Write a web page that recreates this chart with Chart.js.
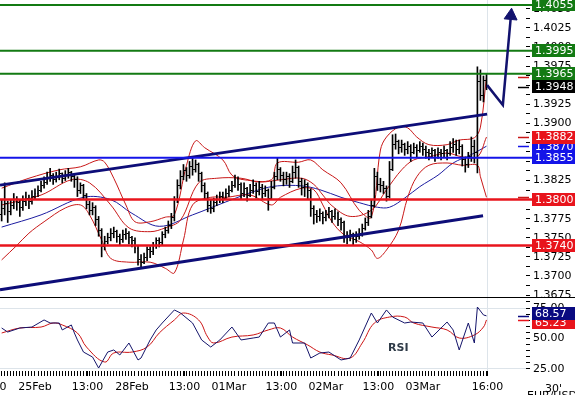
<!DOCTYPE html>
<html><head><meta charset="utf-8">
<script src="https://cdn.jsdelivr.net/npm/chart.js@4.4.1/dist/chart.umd.min.js"></script>
<style>
html,body{margin:0;padding:0;background:#fff;overflow:hidden;width:575px;height:395px;position:relative}
#c1{position:absolute;left:-40px;top:0}
#c2{position:absolute;left:-40px;top:298px}
#sep{position:absolute;left:0;top:297px;width:575px;height:1px;background:#000}
</style></head><body>
<canvas id="c1" width="615" height="298"></canvas>
<canvas id="c2" width="615" height="97"></canvas>
<div id="sep"></div>
<script>
// ---------- DATA ----------
const barStartHour = -8.25, barStepHours = 0.75;   // 45' bars, hours from 25Feb 00:00 (trading time)
const opens = [1.3780,1.3788,1.3795,1.3785,1.3792,1.3800,1.3796,1.3790,1.3798,1.3802,
1.3797,1.3804,1.3808,1.3812,1.3818,1.3822,1.3828,1.3832,1.3826,1.3830,
1.3834,1.3828,1.3832,1.3836,1.3830,1.3826,1.3812,1.3818,1.3806,1.3794,
1.3786,1.3790,1.3774,1.3760,1.3738,1.3745,1.3750,1.3755,1.3758,1.3752,
1.3748,1.3754,1.3756,1.3750,1.3746,1.3736,1.3722,1.3718,1.3724,1.3734,
1.3732,1.3740,1.3746,1.3744,1.3754,1.3760,1.3766,1.3776,1.3800,1.3818,
1.3830,1.3838,1.3832,1.3844,1.3840,1.3846,1.3834,1.3818,1.3808,1.3792,
1.3788,1.3796,1.3800,1.3804,1.3802,1.3808,1.3812,1.3818,1.3826,1.3820,
1.3808,1.3814,1.3806,1.3812,1.3818,1.3810,1.3816,1.3808,1.3812,1.3802,
1.3816,1.3830,1.3840,1.3832,1.3826,1.3830,1.3824,1.3836,1.3842,1.3824,
1.3816,1.3820,1.3812,1.3788,1.3780,1.3778,1.3782,1.3776,1.3780,1.3784,
1.3778,1.3782,1.3774,1.3770,1.3752,1.3750,1.3754,1.3748,1.3752,1.3756,
1.3762,1.3770,1.3778,1.3792,1.3830,1.3820,1.3818,1.3814,1.3804,1.3840,
1.3872,1.3876,1.3868,1.3872,1.3866,1.3870,1.3862,1.3868,1.3864,1.3870,
1.3866,1.3862,1.3860,1.3864,1.3858,1.3862,1.3860,1.3864,1.3860,1.3868,
1.3872,1.3866,1.3870,1.3852,1.3846,1.3856,1.3870,1.3862,1.3955,1.3936,
1.3956];
const highs = [1.3800,1.3822,1.3798,1.3800,1.3808,1.3804,1.3799,1.3805,1.3810,1.3806,
1.3812,1.3814,1.3818,1.3824,1.3830,1.3836,1.3841,1.3834,1.3836,1.3840,
1.3835,1.3838,1.3841,1.3837,1.3832,1.3830,1.3822,1.3820,1.3808,1.3798,
1.3796,1.3792,1.3778,1.3762,1.3752,1.3756,1.3762,1.3764,1.3760,1.3755,
1.3760,1.3762,1.3758,1.3752,1.3750,1.3740,1.3728,1.3730,1.3738,1.3738,
1.3744,1.3750,1.3750,1.3758,1.3764,1.3772,1.3782,1.3804,1.3826,1.3838,
1.3846,1.3842,1.3850,1.3855,1.3852,1.3848,1.3836,1.3822,1.3810,1.3800,
1.3802,1.3806,1.3810,1.3810,1.3814,1.3818,1.3824,1.3832,1.3830,1.3822,
1.3822,1.3816,1.3820,1.3826,1.3822,1.3824,1.3820,1.3818,1.3814,1.3824,
1.3836,1.3855,1.3842,1.3836,1.3836,1.3834,1.3844,1.3852,1.3844,1.3828,
1.3826,1.3822,1.3814,1.3792,1.3786,1.3788,1.3784,1.3786,1.3790,1.3786,
1.3788,1.3784,1.3776,1.3772,1.3758,1.3760,1.3756,1.3758,1.3762,1.3768,
1.3776,1.3786,1.3800,1.3841,1.3836,1.3828,1.3824,1.3818,1.3850,1.3885,
1.3886,1.3878,1.3878,1.3874,1.3876,1.3872,1.3874,1.3872,1.3876,1.3874,
1.3870,1.3866,1.3868,1.3866,1.3868,1.3866,1.3870,1.3866,1.3876,1.3880,
1.3878,1.3878,1.3872,1.3856,1.3862,1.3882,1.3878,1.3974,1.3970,1.3962,
1.3964];
const lows = [1.3772,1.3780,1.3770,1.3780,1.3788,1.3786,1.3778,1.3786,1.3792,1.3788,
1.3794,1.3800,1.3804,1.3810,1.3815,1.3820,1.3824,1.3820,1.3823,1.3826,
1.3822,1.3825,1.3828,1.3824,1.3816,1.3804,1.3808,1.3800,1.3788,1.3780,
1.3780,1.3766,1.3752,1.3725,1.3734,1.3742,1.3746,1.3750,1.3744,1.3740,
1.3744,1.3748,1.3742,1.3738,1.3730,1.3714,1.3712,1.3716,1.3720,1.3724,
1.3728,1.3736,1.3738,1.3740,1.3750,1.3756,1.3762,1.3772,1.3796,1.3814,
1.3826,1.3824,1.3828,1.3832,1.3836,1.3824,1.3810,1.3800,1.3784,1.3782,
1.3784,1.3792,1.3796,1.3796,1.3800,1.3804,1.3810,1.3816,1.3812,1.3800,
1.3804,1.3798,1.3804,1.3808,1.3802,1.3806,1.3800,1.3804,1.3786,1.3800,
1.3814,1.3826,1.3824,1.3818,1.3820,1.3816,1.3822,1.3828,1.3816,1.3806,
1.3804,1.3800,1.3778,1.3768,1.3770,1.3772,1.3768,1.3772,1.3776,1.3770,
1.3774,1.3766,1.3760,1.3744,1.3742,1.3746,1.3740,1.3744,1.3748,1.3752,
1.3760,1.3766,1.3776,1.3790,1.3812,1.3810,1.3808,1.3798,1.3802,1.3838,
1.3866,1.3860,1.3862,1.3858,1.3860,1.3850,1.3860,1.3856,1.3862,1.3858,
1.3854,1.3852,1.3856,1.3850,1.3854,1.3852,1.3856,1.3852,1.3858,1.3862,
1.3858,1.3860,1.3844,1.3836,1.3842,1.3850,1.3848,1.3835,1.3930,1.3928,
1.3944];
const closes = [1.3788,1.3795,1.3785,1.3792,1.3800,1.3796,1.3790,1.3798,1.3802,1.3797,
1.3804,1.3808,1.3812,1.3818,1.3822,1.3828,1.3832,1.3826,1.3830,1.3834,
1.3828,1.3832,1.3836,1.3830,1.3826,1.3812,1.3818,1.3806,1.3794,1.3786,
1.3790,1.3774,1.3760,1.3738,1.3745,1.3750,1.3755,1.3758,1.3752,1.3748,
1.3754,1.3756,1.3750,1.3746,1.3736,1.3722,1.3718,1.3724,1.3734,1.3732,
1.3740,1.3746,1.3744,1.3754,1.3760,1.3766,1.3776,1.3800,1.3818,1.3830,
1.3838,1.3832,1.3844,1.3840,1.3846,1.3834,1.3818,1.3808,1.3792,1.3788,
1.3796,1.3800,1.3804,1.3802,1.3808,1.3812,1.3818,1.3826,1.3820,1.3808,
1.3814,1.3806,1.3812,1.3818,1.3810,1.3816,1.3808,1.3812,1.3802,1.3816,
1.3830,1.3840,1.3832,1.3826,1.3830,1.3824,1.3836,1.3842,1.3824,1.3816,
1.3820,1.3812,1.3788,1.3780,1.3778,1.3782,1.3776,1.3780,1.3784,1.3778,
1.3782,1.3774,1.3770,1.3752,1.3750,1.3754,1.3748,1.3752,1.3756,1.3762,
1.3770,1.3778,1.3792,1.3830,1.3820,1.3818,1.3814,1.3804,1.3840,1.3872,
1.3876,1.3868,1.3872,1.3866,1.3870,1.3862,1.3868,1.3864,1.3870,1.3866,
1.3862,1.3860,1.3864,1.3858,1.3862,1.3860,1.3864,1.3860,1.3868,1.3872,
1.3866,1.3870,1.3852,1.3846,1.3856,1.3870,1.3862,1.3955,1.3936,1.3956,
1.3948];

// indicator lines, read at sample bars (bar index -> value)
const maIdx = [0,13,27,36,43,52,63,74,85,91,99,105,112,118,124,128,133,138,144,149,155,160];
const maVal = [1.3764,1.3780,1.3803,1.3800,1.3782,1.3765,1.3780,1.3797,1.3813,1.3818,1.3818,1.3813,1.3803,1.3796,1.3790,1.3790,1.3802,1.3817,1.3832,1.3848,1.3859,1.3870];
const bbUpIdx = [0,9,19,26,32,34,37,41,44,49,54,57,61,64,67,73,76,80,89,91,98,102,106,112,118,122,125,127,131,134,137,141,147,151,156,158,160];
const bbUpVal = [1.3815,1.3828,1.3839,1.3843,1.3852,1.3849,1.3828,1.3793,1.3771,1.3771,1.3777,1.3780,1.3845,1.3877,1.3868,1.3852,1.3832,1.3826,1.3826,1.3848,1.3849,1.3852,1.3839,1.3822,1.3786,1.3777,1.3865,1.3882,1.3895,1.3894,1.3882,1.3872,1.3872,1.3878,1.3881,1.3895,1.3961];
const bbMidIdx = [0,13,23,29,36,42,49,54,59,65,71,79,85,92,99,103,106,109,115,122,127,132,136,141,147,152,157,160];
const bbMidVal = [1.3793,1.3806,1.3826,1.3822,1.3793,1.3763,1.3758,1.3763,1.3773,1.3822,1.3828,1.3828,1.3823,1.3826,1.3828,1.3820,1.3806,1.3792,1.3778,1.3786,1.3813,1.3839,1.3852,1.3856,1.3861,1.3856,1.3856,1.3882];
const bbLowIdx = [0,5,9,14,21,26,29,33,36,42,49,54,57,60,63,69,74,82,89,92,99,103,106,109,113,118,122,124,127,131,134,137,141,147,152,157,158,160];
const bbLowVal = [1.3721,1.3740,1.3756,1.3771,1.3789,1.3793,1.3780,1.3747,1.3723,1.3718,1.3718,1.3710,1.3704,1.3747,1.3793,1.3803,1.3803,1.3806,1.3793,1.3803,1.3815,1.3813,1.3793,1.3771,1.3754,1.3745,1.3734,1.3723,1.3734,1.3760,1.3803,1.3830,1.3845,1.3848,1.3845,1.3845,1.3830,1.3803];

const rsiIdx = [0,2,6,10,14,16,19,20,23,24,25,27,30,32,35,37,39,42,45,46,49,51,53,57,59,63,66,69,72,76,79,83,85,88,90,92,95,96,100,102,105,108,112,115,118,122,124,127,129,133,135,139,142,147,149,151,154,156,157,159,160];
const rsiVal = [58.6,55.3,58.6,59.4,65.2,62.7,62.7,57.0,61.1,54.5,48.8,38.9,34.8,25.8,38.9,40.6,36.5,46.3,32.4,34.0,48.8,57.0,62.7,73.4,70.9,62.7,48.8,43.0,48.8,59.4,48.8,50.4,51.2,62.7,62.7,51.2,57.0,46.3,46.3,34.0,38.1,38.9,32.4,34.0,48.8,70.9,62.7,73.4,67.6,62.7,63.5,62.7,51.2,63.5,57.0,40.6,62.7,46.3,75.8,69.3,68.57];
const rsiMaIdx = [0,6,13,17,20,25,28,34,37,43,48,52,57,60,65,68,70,76,83,88,92,96,101,105,109,115,119,123,128,133,136,142,147,151,156,159,160];
const rsiMaVal = [54.5,58.6,59.4,62.7,61.1,54.5,43.0,30.7,38.1,38.9,43.0,54.5,65.2,70.9,65.2,51.2,46.3,51.2,52.9,57.0,58.6,51.2,44.7,38.9,36.5,34.0,46.3,62.7,67.6,67.6,62.7,59.4,57.0,50.4,52.9,59.4,65.23];

// drawn objects (hour, price)
const greenLevels = [1.4055, 1.3995, 1.3965];
const blueLevels = [1.3855];
const redLevels = [1.3800, 1.3740];
const upperChannel = [[-8.66, 1.3819], [111.9, 1.3912]];
const lowerChannel = [[-8.66, 1.3682], [110.9, 1.3779]];
const arrowPath = [[111.9, 1.3950], [115.8, 1.3924], [117.8, 1.4041]];

// axis ticks
const timeTickHours = [-11, 0, 13, 24, 37, 48, 61, 72, 85, 96, 112];
const timeTickLabels = ['13:00','25Feb','13:00','28Feb','13:00','01Mar','13:00','02Mar','13:00','03Mar','16:00'];
const priceTickFrom = 1.3675, priceTickTo = 1.4050, priceTickStep = 0.00125;
const rsiTickValues = [25,30,35,40,45,50,55,60,65,70,75,80];
const rsiLabelled = [25,50,75];
const rsiGrid = [25,75];

// ---------- VIEW ----------
const XMIN = -18.56, XMAX = 121.53, LINE_END = 123.4;
const YMIN = 1.367109, YMAX = 1.406155;
const RMIN = 23.36, RMAX = 83.2;
const FONT = "'DejaVu Sans', sans-serif";
Chart.defaults.font.family = FONT;
Chart.defaults.font.size = 11;
Chart.defaults.color = '#000';

const C_GREEN = '#137a13', C_BLUE = '#1414e8', C_RED = '#e8141c', C_NAVY = '#0d0d78',
      C_BB = '#c81818', C_MA = '#1c1ca0', C_BLACK = '#000';

const hourOf = i => barStartHour + i * barStepHours;
const series = (idx, vals) => idx.map((k, j) => ({x: hourOf(k), y: vals[j]}));
const last = a => a[a.length - 1];

function tickImg(side) {
  const c = document.createElement('canvas'); c.width = 3; c.height = 1;
  const g = c.getContext('2d'); g.fillStyle = '#000'; g.fillRect(side === 'L' ? 0 : 2, 0, 1, 1);
  return c;
}
const openImg = tickImg('L'), closeImg = tickImg('R');

function level(v, color, w) {
  return {type: 'line', data: [{x: XMIN, y: v}, {x: LINE_END, y: v}], borderColor: color,
          borderWidth: w, pointRadius: 0, clip: false, order: 1};
}
function seg(path, color, w, order) {
  return {type: 'line', data: path.map(p => ({x: p[0], y: p[1]})), borderColor: color,
          borderWidth: w, pointRadius: 0, order: order, clip: false};
}
function thin(data, color, tension) {
  return {type: 'line', data, borderColor: color, borderWidth: 1, pointRadius: 0, tension: tension, order: 5};
}

function tagPlugin(tags, markers, decimals, minGap, extra) {
  return {
    id: 'tags',
    afterDraw(chart) {
      const {ctx, chartArea} = chart; const y = chart.scales.y;
      ctx.save();
      markers.forEach(m => {
        const py = Math.round(y.getPixelForValue(m.v)) + 0.5;
        ctx.strokeStyle = m.c; ctx.lineWidth = 1.5;
        ctx.beginPath(); ctx.moveTo(chartArea.right - 8, py); ctx.lineTo(chartArea.right + 3, py); ctx.stroke();
      });
      const placed = tags.map(t => ({t, py: y.getPixelForValue(t.v)}));
      if (minGap) {
        const sorted = placed.slice().sort((a, b) => a.py - b.py);
        for (let k = 1; k < sorted.length; k++) {
          const gap = sorted[k].py - sorted[k - 1].py;
          if (gap < minGap) { const d = (minGap - gap) / 2; sorted[k - 1].py -= d; sorted[k].py += d; }
        }
      }
      placed.forEach(({t, py}) => {
        const x0 = chartArea.right + 6;
        ctx.fillStyle = t.c; ctx.fillRect(x0, Math.round(py - 6.5), chart.width - x0, 13);
        ctx.fillStyle = '#fff'; ctx.font = '11px ' + FONT; ctx.textBaseline = 'middle'; ctx.textAlign = 'left';
        ctx.fillText(t.v.toFixed(decimals), x0 + 3, py + 0.5);
      });
      if (extra) extra(ctx, chart);
      ctx.restore();
    }
  };
}

// ---------- PRICE PANEL ----------
const idxAll = closes.map((_, i) => i);
const priceDatasets = [
  Object.assign(seg(arrowPath, '#12126e', 2.5, 0), {
    pointRadius: ctx => ctx.dataIndex === arrowPath.length - 1 ? 7.5 : 0,
    pointStyle: 'triangle', pointRotation: 5, pointBackgroundColor: '#12126e', pointBorderColor: '#12126e', pointBorderWidth: 1
  }),
  ...greenLevels.map(v => level(v, C_GREEN, 2)),
  ...blueLevels.map(v => level(v, C_BLUE, 2)),
  ...redLevels.map(v => level(v, C_RED, 2.5)),
  seg(upperChannel, C_NAVY, 3, 2),
  seg(lowerChannel, C_NAVY, 3, 2),
  {type: 'line', showLine: false, data: idxAll.map(i => ({x: hourOf(i), y: opens[i]})), pointStyle: openImg, pointRadius: 1, order: 3},
  {type: 'line', showLine: false, data: idxAll.map(i => ({x: hourOf(i), y: closes[i]})), pointStyle: closeImg, pointRadius: 1, order: 3},
  {type: 'bar', data: idxAll.map(i => ({x: hourOf(i), y: [lows[i], highs[i]]})), backgroundColor: '#000',
   barThickness: 1, borderWidth: 0, order: 3},
  thin(series(bbUpIdx, bbUpVal), C_BB, 0.35),
  thin(series(bbMidIdx, bbMidVal), C_BB, 0.35),
  thin(series(bbLowIdx, bbLowVal), C_BB, 0.35),
  thin(series(maIdx, maVal), C_MA, 0.35)
];

const priceTicks = [];
for (let v = priceTickFrom; v <= priceTickTo + 1e-9; v += priceTickStep) priceTicks.push({value: +v.toFixed(5)});

const priceTags = [
  {v: last(maVal), c: C_BLUE},
  {v: last(bbMidVal), c: C_RED},
  ...blueLevels.map(v => ({v, c: C_BLUE})),
  ...greenLevels.map(v => ({v, c: C_GREEN})),
  {v: last(closes), c: C_BLACK},
  ...redLevels.map(v => ({v, c: C_RED}))
];
const priceMarkers = [
  {v: last(closes), c: C_BLACK}, {v: last(bbUpVal), c: C_BB}, {v: last(bbMidVal), c: C_BB},
  {v: last(maVal), c: C_BLUE}, {v: last(bbLowVal), c: C_BB}
];

new Chart(document.getElementById('c1'), {
  type: 'line',
  data: {datasets: priceDatasets},
  options: {
    responsive: false, animation: false, events: [],
    layout: {padding: 0, autoPadding: false},
    plugins: {legend: {display: false}, tooltip: {enabled: false}},
    scales: {
      x: {type: 'linear', min: XMIN, max: XMAX, offset: false,
          afterBuildTicks: s => { s.ticks = [{value: timeTickHours[timeTickHours.length - 1]}]; },
          ticks: {display: false},
          grid: {offset: false, drawTicks: false, color: '#dde4ea', lineWidth: 1},
          border: {display: false},
          afterFit: s => { s.height = 0; s.paddingLeft = 0; s.paddingRight = 0; }},
      y: {type: 'linear', position: 'right', min: YMIN, max: YMAX, beginAtZero: false,
          afterBuildTicks: s => { s.ticks = priceTicks.map(t => ({value: t.value})); },
          ticks: {autoSkip: false, padding: 3, color: '#000', font: {family: FONT, size: 11},
                  callback: v => (Math.round(v * 10000) % 25 === 0 ? v.toFixed(4) : '')},
          grid: {drawOnChartArea: false, drawTicks: true, tickLength: 4, tickColor: '#000'},
          border: {display: false},
          afterFit: s => { s.width = 49; s.paddingTop = 0; s.paddingBottom = 0; }}
    }
  },
  plugins: [tagPlugin(priceTags, priceMarkers, 4, 0)]
});

// ---------- RSI PANEL ----------
const barTickHours = idxAll.map(hourOf);
const allTimeTicks = Array.from(new Set([...barTickHours, ...timeTickHours])).sort((a, b) => a - b);
const labelAt = v => { const k = timeTickHours.indexOf(v); return k >= 0 ? timeTickLabels[k] : ''; };

new Chart(document.getElementById('c2'), {
  type: 'line',
  data: {datasets: [
    {type: 'line', data: series(rsiIdx, rsiVal), borderColor: '#14146a', borderWidth: 1, pointRadius: 0, tension: 0, order: 0},
    {type: 'line', data: series(rsiMaIdx, rsiMaVal), borderColor: '#cc1414', borderWidth: 1, pointRadius: 0, tension: 0.4, order: 1}
  ]},
  options: {
    responsive: false, animation: false, events: [],
    layout: {padding: 0, autoPadding: false},
    plugins: {legend: {display: false}, tooltip: {enabled: false}},
    scales: {
      x: {type: 'linear', min: XMIN, max: XMAX, offset: false,
          afterBuildTicks: s => { s.ticks = allTimeTicks.map(v => ({value: v})); },
          ticks: {autoSkip: false, maxRotation: 0, minRotation: 0, padding: 5, color: '#000',
                  font: {family: FONT, size: 11}, callback: v => labelAt(v)},
          grid: {drawOnChartArea: true, drawTicks: true, tickLength: 5, tickColor: '#000', offset: false,
                 color: ctx => (ctx.tick && ctx.tick.value === timeTickHours[timeTickHours.length - 1]) ? '#dde4ea' : 'rgba(0,0,0,0)'},
          border: {display: false},
          afterFit: s => { s.height = 24; s.paddingLeft = 0; s.paddingRight = 0; }},
      y: {type: 'linear', position: 'right', min: RMIN, max: RMAX,
          afterBuildTicks: s => { s.ticks = rsiTickValues.map(v => ({value: v})); },
          ticks: {autoSkip: false, padding: 3, color: '#000', font: {family: FONT, size: 11},
                  callback: v => (rsiLabelled.includes(v) ? v.toFixed(2) : '')},
          grid: {drawOnChartArea: true, drawTicks: true, tickLength: 4, tickColor: '#000',
                 color: ctx => (ctx.tick && rsiGrid.includes(ctx.tick.value)) ? '#dde4ea' : 'rgba(0,0,0,0)'},
          border: {display: false},
          afterFit: s => { s.width = 49; s.paddingTop = 0; s.paddingBottom = 0; }}
    }
  },
  plugins: [tagPlugin(
    [{v: last(rsiMaVal), c: C_RED}, {v: last(rsiVal), c: '#0a0a80'}],
    [{v: last(rsiVal), c: '#0a0a80'}, {v: last(rsiMaVal), c: C_RED}], 2, 9,
    (ctx, chart) => {
      ctx.fillStyle = '#2f3b48'; ctx.font = 'bold 11px ' + FONT; ctx.textAlign = 'left'; ctx.textBaseline = 'middle';
      ctx.fillText('RSI', 428, 50);
      ctx.fillStyle = '#000'; ctx.font = '11px ' + FONT; ctx.textBaseline = 'alphabetic';
      ctx.fillText('EUR/USD', 567, 101);
      ctx.fillText("30'", 585, 94);
    })]
});
</script>
</body></html>
